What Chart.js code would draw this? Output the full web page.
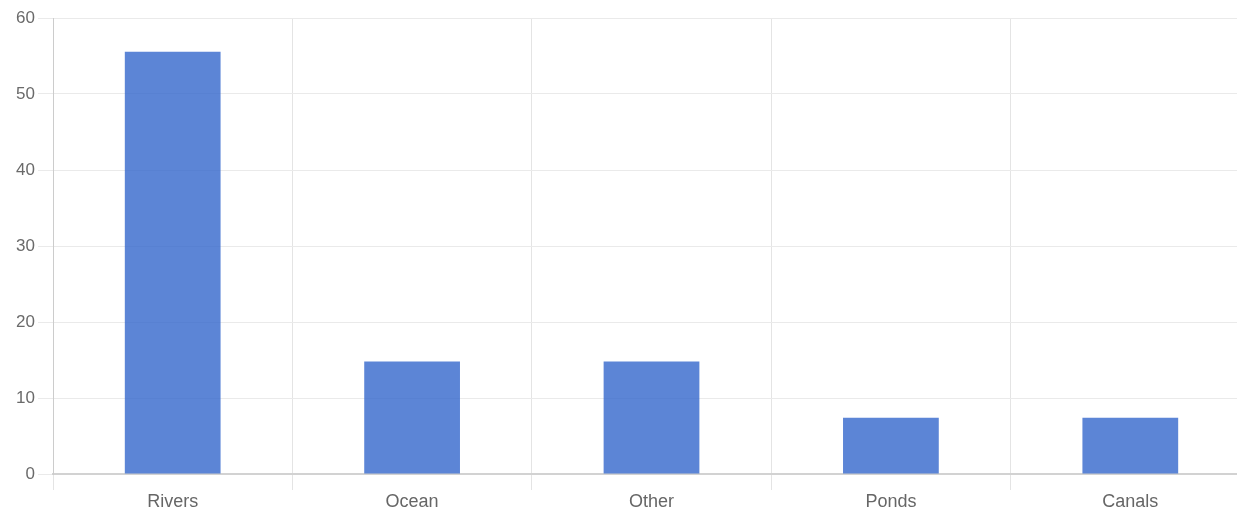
<!DOCTYPE html>
<html>
<head>
<meta charset="utf-8">
<script src="https://cdn.jsdelivr.net/npm/chart.js@4"></script>
<style>
  html, body { margin: 0; padding: 0; background: #fff; overflow: hidden; }
  #wrap { position: relative; width: 1252px; height: 514px; }
</style>
</head>
<body>
<div id="wrap"><canvas id="chart"></canvas></div>
<script>
// Share of sightings by water body type (percent)
const categories = ['Rivers', 'Ocean', 'Other', 'Ponds', 'Canals'];
const shares = [55.56, 14.81, 14.81, 7.41, 7.41];
const yTicks = [0, 10, 20, 30, 40, 50, 60];

const family = 'Liberation Sans, Arial, Helvetica, sans-serif';

new Chart(document.getElementById('chart'), {
  type: 'bar',
  data: {
    labels: categories,
    datasets: [{
      data: shares,
      backgroundColor: 'rgba(51, 102, 204, 0.8)',
      borderWidth: 0,
      barPercentage: 0.5,
      categoryPercentage: 0.8
    }]
  },
  options: {
    responsive: true,
    maintainAspectRatio: false,
    animation: false,
    layout: { padding: { top: 18, right: 2, left: 0, bottom: 0 } },
    plugins: { legend: { display: false }, tooltip: { enabled: false } },
    scales: {
      x: {
        grid: { color: '#e4e4e4', lineWidth: 1, tickLength: 16, offset: true },
        border: { color: '#d2d2d2', width: 2 },
        ticks: { color: '#666', font: { family: family, size: 18 }, padding: 1 },
        afterFit: s => { s.height = 40; }
      },
      y: {
        min: 0,
        max: 60,
        afterBuildTicks: s => { s.ticks = yTicks.map(v => ({ value: v })); },
        grid: { color: '#eaeaea', lineWidth: 1, tickLength: 15 },
        border: { color: '#cccccc', width: 1 },
        ticks: { color: '#6a6a6a', font: { family: family, size: 17 }, padding: 3 },
        afterFit: s => { s.width = 53; }
      }
    }
  }
});
</script>
</body>
</html>
